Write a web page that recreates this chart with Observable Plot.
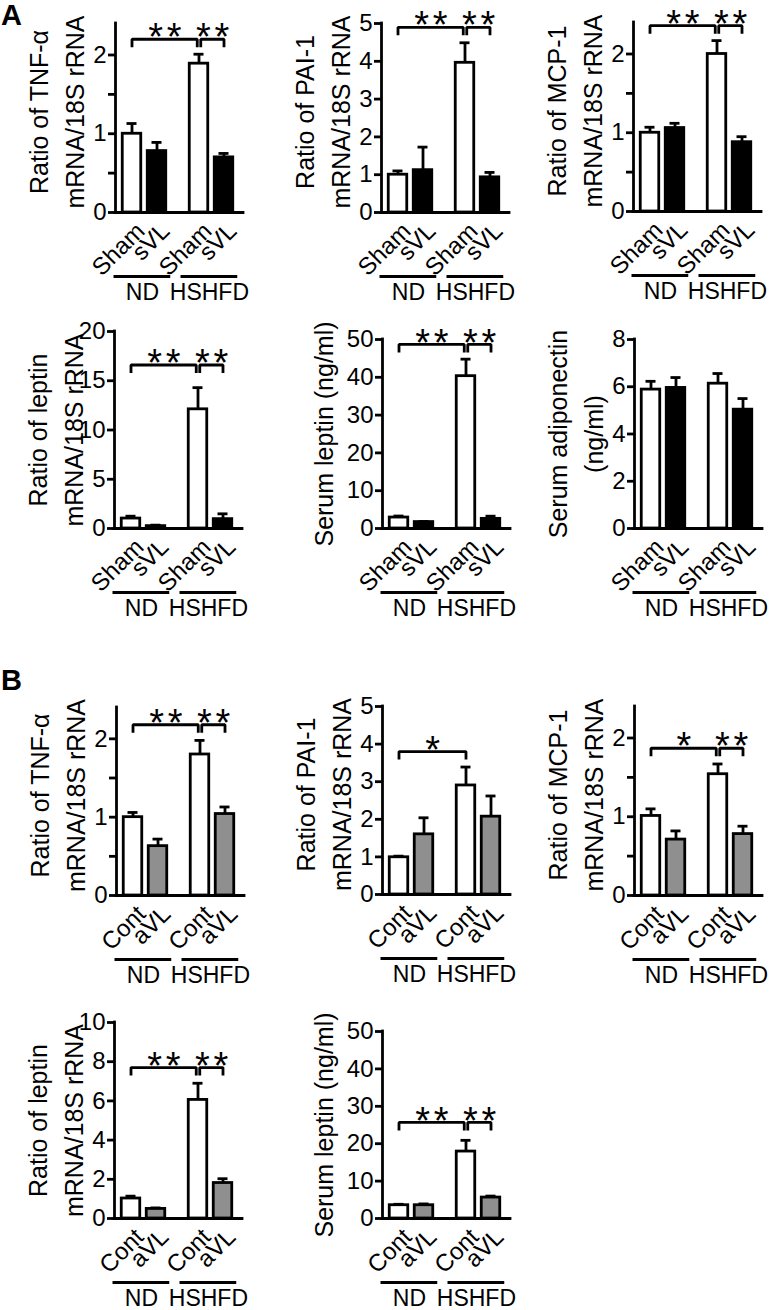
<!DOCTYPE html>
<html><head><meta charset="utf-8">
<script src="https://cdn.jsdelivr.net/npm/d3@7"></script>
<script src="https://cdn.jsdelivr.net/npm/@observablehq/plot@0.6"></script>
<style>
body{margin:0;background:#fff;}
#fig{position:relative;width:775px;height:1310px;background:#fff;font-family:"Liberation Sans",Arial,sans-serif;}
.panel{position:absolute;}
.letter{position:absolute;font-weight:bold;font-size:29px;line-height:1;font-family:"Liberation Sans",Arial,sans-serif;}
svg [aria-label^="y-axis"] line, svg [aria-label^="y-axis"] path {stroke-width:2.8px;stroke:#000;}
svg [aria-label^="y-axis"] text {font-size:24px;fill:#000;}
</style></head><body><div id="fig"></div>
<script>
// ---------- data ----------
const groups = ["ND", "HSHFD"];
const treatA = ["Sham", "sVL"];
const treatB = ["Cont", "aVL"];
// order of values: ND first, ND second, HSHFD first, HSHFD second
const tnfA = [1.00, 0.78, 1.89, 0.70];
const tnfAErr = [1.13, 0.89, 2.01, 0.75];
const paiA = [1.00, 1.12, 3.96, 0.93];
const paiAErr = [1.10, 1.73, 4.49, 1.06];
const mcpA = [1.00, 1.06, 2.00, 0.88];
const mcpAErr = [1.07, 1.12, 2.17, 0.95];
const leptinA = [1.01, 0.24, 12.1, 0.95];
const leptinAErr = [1.25, 0.34, 14.3, 1.49];
const serumLeptinA = [2.9, 1.7, 40.3, 2.55];
const serumLeptinAErr = [3.3, 1.85, 44.8, 3.26];
const adipoA = [5.88, 5.95, 6.13, 5.03];
const adipoAErr = [6.23, 6.39, 6.56, 5.50];
const tnfB = [1.00, 0.63, 1.80, 1.04];
const tnfBErr = [1.06, 0.72, 1.98, 1.13];
const paiB = [0.99, 1.60, 2.90, 2.07];
const paiBErr = [1.02, 2.04, 3.39, 2.62];
const mcpB = [1.01, 0.71, 1.54, 0.78];
const mcpBErr = [1.10, 0.82, 1.67, 0.88];
const leptinB = [1.02, 0.49, 6.05, 1.81];
const leptinBErr = [1.14, 0.54, 6.90, 2.03];
const serumLeptinB = [3.55, 3.55, 17.9, 5.6];
const serumLeptinBErr = [3.8, 3.9, 20.9, 6.0];
// significance: [label, from bar, to bar, bracket level]
const tnfASig = [["**", 0, 2, 2.2], ["**", 2, 3, 2.2]];
const paiASig = [["**", 0, 2, 4.9], ["**", 2, 3, 4.9]];
const mcpASig = [["**", 0, 2, 2.36], ["**", 2, 3, 2.36]];
const leptinASig = [["**", 0, 2, 16.6], ["**", 2, 3, 16.6]];
const serumLeptinASig = [["**", 0, 2, 48.7], ["**", 2, 3, 48.7]];
const tnfBSig = [["**", 0, 2, 2.18], ["**", 2, 3, 2.18]];
const paiBSig = [["*", 0, 2, 3.8]];
const mcpBSig = [["*", 0, 2, 1.87], ["**", 2, 3, 1.87]];
const leptinBSig = [["**", 0, 2, 7.7], ["**", 2, 3, 7.7]];
const serumLeptinBSig = [["**", 0, 2, 25.7], ["**", 2, 3, 25.7]];
// axis tick values
const ticksRatio = [0, 0.5, 1, 1.5, 2];
const ticks5 = [0, 1, 2, 3, 4, 5];
const ticks20 = [0, 5, 10, 15, 20];
const ticks50 = [0, 10, 20, 30, 40, 50];
const ticks8 = [0, 2, 4, 6, 8];
const ticks10 = [0, 2, 4, 6, 8, 10];
const titleTNF = "Ratio of TNF-α\nmRNA/18S rRNA";
const titlePAI = "Ratio of PAI-1\nmRNA/18S rRNA";
const titleMCP = "Ratio of MCP-1\nmRNA/18S rRNA";
const titleLeptin = "Ratio of leptin\nmRNA/18S rRNA";
const titleSerumLeptin = "Serum leptin (ng/ml)";
const titleAdipo = "Serum adiponectin\n(ng/ml)";

// ---------- layout ----------
const ML = 100, MR = 14, MT = 30, MB = 92, IW = 128, UNIT = 25;
const X_MAX = IW / UNIT;
const GRAY = "#8f8f8f";
const FONT = "Liberation Sans, Arial, sans-serif";
const SW = 2.8;

const panels = [
  {values: tnfA, errs: tnfAErr, treat: treatA, fill2: "black", yMax: 2.4, ticks: ticksRatio, title: titleTNF, sig: tnfASig, axisX: 115, zeroY: 212, topY: 23, tdy: -6},
  {values: paiA, errs: paiAErr, treat: treatA, fill2: "black", yMax: 5, ticks: ticks5, title: titlePAI, sig: paiASig, axisX: 381, zeroY: 212, topY: 23, tdy: -6},
  {values: mcpA, errs: mcpAErr, treat: treatA, fill2: "black", yMax: 2.4, ticks: ticksRatio, title: titleMCP, sig: mcpASig, axisX: 633, zeroY: 211, topY: 22, tdy: -6},
  {values: leptinA, errs: leptinAErr, treat: treatA, fill2: "black", yMax: 20, ticks: ticks20, title: titleLeptin, sig: leptinASig, axisX: 114, zeroY: 528, topY: 331, tdy: 0},
  {values: serumLeptinA, errs: serumLeptinAErr, treat: treatA, fill2: "black", yMax: 50, ticks: ticks50, title: titleSerumLeptin, sig: serumLeptinASig, axisX: 382, zeroY: 528, topY: 339, tdy: 0},
  {values: adipoA, errs: adipoAErr, treat: treatA, fill2: "black", yMax: 8, ticks: ticks8, title: titleAdipo, sig: [], axisX: 634, zeroY: 528, topY: 339, tdy: 0},
  {values: tnfB, errs: tnfBErr, treat: treatB, fill2: GRAY, yMax: 2.4, ticks: ticksRatio, title: titleTNF, sig: tnfBSig, axisX: 116, zeroY: 895, topY: 707, tdy: -6},
  {values: paiB, errs: paiBErr, treat: treatB, fill2: GRAY, yMax: 5, ticks: ticks5, title: titlePAI, sig: paiBSig, axisX: 382, zeroY: 894, topY: 706, tdy: -6},
  {values: mcpB, errs: mcpBErr, treat: treatB, fill2: GRAY, yMax: 2.4, ticks: ticksRatio, title: titleMCP, sig: mcpBSig, axisX: 634, zeroY: 895, topY: 706, tdy: -6},
  {values: leptinB, errs: leptinBErr, treat: treatB, fill2: GRAY, yMax: 10, ticks: ticks10, title: titleLeptin, sig: leptinBSig, axisX: 114, zeroY: 1218, topY: 1022, tdy: 0},
  {values: serumLeptinB, errs: serumLeptinBErr, treat: treatB, fill2: GRAY, yMax: 50, ticks: ticks50, title: titleSerumLeptin, sig: serumLeptinBSig, axisX: 382, zeroY: 1218, topY: 1031, tdy: 0}
];

function makePanel(p) {
  const innerH = p.zeroY - p.topY;
  const width = ML + IW + MR;
  const height = MT + innerH + MB;
  const bars = p.values.map((v, i) => {
    const gi = Math.floor(i / 2), ti = i % 2;
    return {group: groups[gi], treat: p.treat[ti], v, e: p.errs[i], cx: 0.66 + ti + gi * 2.68, fill: ti === 0 ? "white" : p.fill2};
  });
  const spans = groups.map(g => {
    const b = bars.filter(d => d.group === g);
    const x1 = b[0].cx - 0.72, x2 = b[1].cx + 0.55;
    return {group: g, x1, x2, xm: (x1 + x2) / 2};
  });
  const tickD = 8 * p.yMax / innerH;
  const touches = idx => p.sig.filter(t => t[1] === idx || t[2] === idx).length > 1;
  const pts = [], stars = [];
  p.sig.forEach((s, k) => {
    const [label, a, b, level] = s;
    const xa = bars[a].cx + (touches(a) ? 0.07 : 0);
    const xb = bars[b].cx - (touches(b) ? 0.07 : 0);
    pts.push({k, x: xa, y: level - tickD}, {k, x: xa, y: level}, {k, x: xb, y: level}, {k, x: xb, y: level - tickD});
    stars.push({label, x: (xa + xb) / 2, y: level});
  });
  const fmt = d => Number.isInteger(d) ? String(d) : "";
  const svg = Plot.plot({
    width, height,
    marginLeft: ML, marginRight: MR, marginTop: MT, marginBottom: MB,
    style: {fontFamily: FONT, fontSize: "24px", color: "black", background: "transparent", overflow: "visible"},
    x: {domain: [0, X_MAX], axis: null},
    y: {domain: [0, p.yMax], ticks: p.ticks, tickFormat: fmt, tickSize: 7, tickPadding: 2, label: null},
    color: {type: "identity"},
    marks: [
      Plot.rectY(bars, {x1: d => d.cx - 0.37, x2: d => d.cx + 0.37, y1: () => 0, y2: "v", fill: "fill", stroke: "black", strokeWidth: SW}),
      Plot.ruleX(bars, {x: "cx", y1: "v", y2: "e", stroke: "black", strokeWidth: SW}),
      Plot.ruleY(bars, {y: "e", x1: d => d.cx - 0.2, x2: d => d.cx + 0.2, stroke: "black", strokeWidth: SW}),
      Plot.ruleX([0], {stroke: "black", strokeWidth: SW, strokeLinecap: "square"}),
      Plot.ruleY([0], {stroke: "black", strokeWidth: SW, strokeLinecap: "square"}),
      Plot.line(pts, {x: "x", y: "y", z: "k", stroke: "black", strokeWidth: SW, strokeLinejoin: "miter", strokeLinecap: "butt", curve: "linear"}),
      Plot.text(stars, {x: "x", y: "y", text: "label", fontSize: 38, lineAnchor: "middle", textAnchor: "middle", dy: -1, dx: 2, fill: "black"}),
      Plot.text(bars, {x: "cx", y: () => 0, text: "treat", rotate: -45, textAnchor: "end", lineAnchor: "top", dx: 2, dy: 8, fontSize: 24, fill: "black"}),
      Plot.ruleY(spans, {y: () => 0, x1: "x1", x2: "x2", dy: 64, stroke: "black", strokeWidth: 3}),
      Plot.text(spans, {x: "xm", y: () => 0, text: "group", dy: 80, lineAnchor: "middle", textAnchor: "middle", fontSize: 23, fill: "black"}),
      Plot.text([p.title], {text: d => d, frameAnchor: "left", rotate: -90, dx: -61, dy: p.tdy, textAnchor: "middle", lineAnchor: "middle", lineHeight: 1.45, fontSize: 25, fill: "black"})
    ]
  });
  svg.querySelectorAll("text").forEach(t => {
    if (/^\*+$/.test(t.textContent)) t.style.letterSpacing = "3.5px";
  });
  svg.classList.add("panel");
  svg.style.left = (p.axisX - ML) + "px";
  svg.style.top = (p.topY - MT) + "px";
  svg.style.position = "absolute";
  return svg;
}

const fig = document.getElementById("fig");
panels.forEach(p => fig.appendChild(makePanel(p)));
const letters = [["A", 1, 1], ["B", 1, 666]];
letters.forEach(([t, l, tp]) => {
  const d = document.createElement("div");
  d.className = "letter";
  d.textContent = t;
  d.style.left = l + "px";
  d.style.top = tp + "px";
  fig.appendChild(d);
});
</script></body></html>
